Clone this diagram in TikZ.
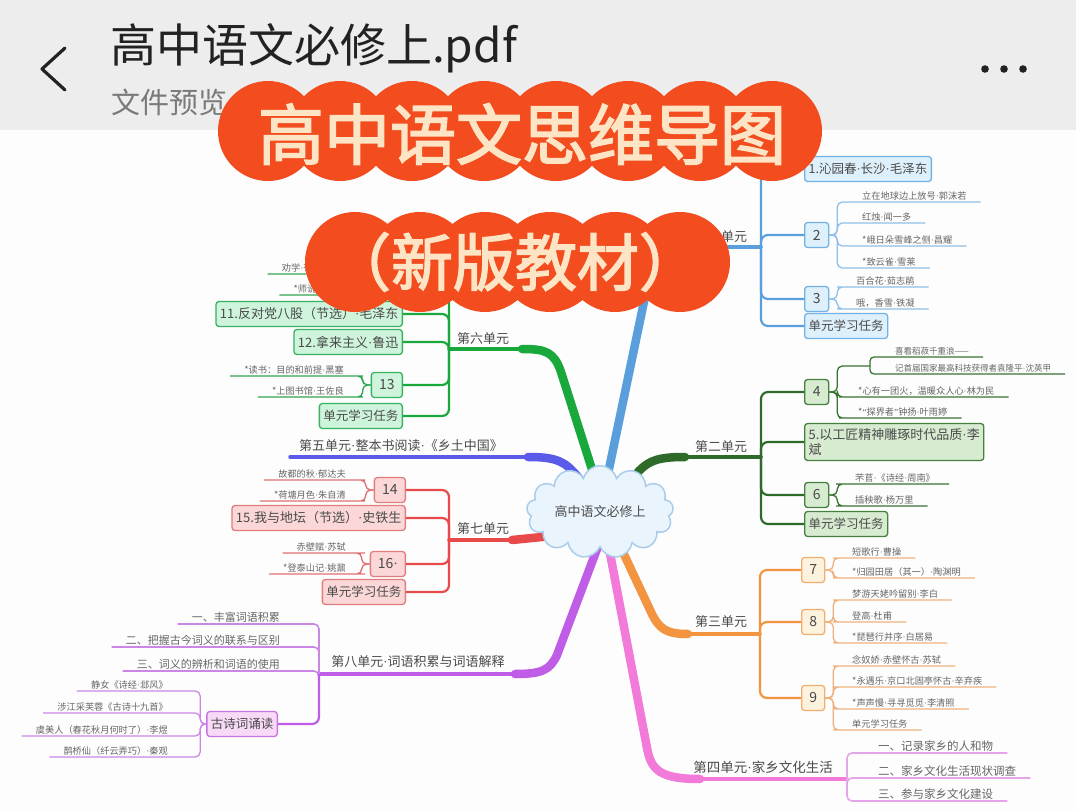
\documentclass[tikz,border=0pt]{standalone}
\usepackage{fontspec}
\setmainfont{Noto Sans CJK SC}[AutoFakeBold=2.5]
\newfontfamily\latinfont{Liberation Serif}
\usepackage{xcolor}
\usepackage{tikz}
\usetikzlibrary{shapes.symbols}

\definecolor{headbg}{HTML}{EDEDED}
\definecolor{pagebg}{HTML}{FDFDFD}
\definecolor{headink}{HTML}{222222}
\definecolor{subink}{HTML}{7A7A7A}
\definecolor{ink}{HTML}{4A4A4A}
\definecolor{leafink}{HTML}{666666}
\definecolor{banner}{HTML}{F24C1F}
\definecolor{cream}{HTML}{FDE4C4}
\definecolor{cloudfill}{HTML}{EAF4FC}
\definecolor{cloudline}{HTML}{A9CDEB}
% branch colours
\definecolor{blueline}{HTML}{5A9FDC}
\definecolor{bluetwig}{HTML}{8EC0EA}
\definecolor{bluefill}{HTML}{DDF0FB}
\definecolor{blueedge}{HTML}{72B2E4}
\definecolor{dgline}{HTML}{2E6A2A}
\definecolor{dgtwig}{HTML}{3A7435}
\definecolor{dgfill}{HTML}{D7EBD1}
\definecolor{dgedge}{HTML}{45803E}
\definecolor{orline}{HTML}{F29440}
\definecolor{ortwig}{HTML}{EFB27C}
\definecolor{orfill}{HTML}{FDF2DE}
\definecolor{oredge}{HTML}{F2B070}
\definecolor{pkline}{HTML}{F27AD9}
\definecolor{pktwig}{HTML}{E6A5E8}
\definecolor{gnline}{HTML}{19A83B}
\definecolor{gntwig}{HTML}{33A653}
\definecolor{gnfill}{HTML}{CFF4DC}
\definecolor{gnedge}{HTML}{35B35E}
\definecolor{idline}{HTML}{5B5BEA}
\definecolor{rdline}{HTML}{E84A4A}
\definecolor{rdtwig}{HTML}{E07070}
\definecolor{rdfill}{HTML}{FBD7D7}
\definecolor{rdedge}{HTML}{E27D7D}
\definecolor{puline}{HTML}{C05DE6}
\definecolor{putwig}{HTML}{CB86E6}
\definecolor{pufill}{HTML}{F8DAF7}
\definecolor{puedge}{HTML}{C774E0}

\newcommand\md{{\latinfont\char"00B7}}
\newcommand\mmleaf{\fontsize{9.2}{11}\selectfont}
\newcommand\mmsect{\fontsize{11.5}{13}\selectfont}
\newcommand\mmtopic{\fontsize{12.5}{15}\selectfont}
\newcommand\mmnum{\fontsize{14}{16}\selectfont}
\newcommand\mmunit{\fontsize{13}{15}\selectfont}
\newcommand\mmbanner{\fontsize{66}{70}\selectfont\bfseries}

\begin{document}
\begin{tikzpicture}[x=1pt, y=-1pt,
  stem/.style={line width=8.5pt, line cap=round, line join=round},
  trunk/.style={line width=3.5pt, line cap=round},
  limb/.style={line width=2.2pt, rounded corners=7pt},
  twig/.style={line width=1.3pt, rounded corners=5pt},
  topic/.style={draw, rounded corners=3pt, line width=1.3pt, inner xsep=4pt,
    inner ysep=3pt, minimum height=25pt, font=\mmtopic, text=ink},
  num/.style={topic, minimum width=24pt, font=\mmnum},
  unit/.style={font=\mmunit, text=ink, inner sep=1pt},
  leaf/.style={font=\mmleaf, text=leafink, inner xsep=14pt, inner ysep=1.5pt},
  lr/.style={leaf, anchor=south west},
  ll/.style={leaf, anchor=south east},
  blbox/.style={fill=bluefill, draw=blueedge},
  dgbox/.style={fill=dgfill, draw=dgedge},
  orbox/.style={fill=orfill, draw=oredge},
  gnbox/.style={fill=gnfill, draw=gnedge},
  rdbox/.style={fill=rdfill, draw=rdedge},
  pubox/.style={fill=pufill, draw=puedge},
  headline/.style={font=\mmbanner, text=cream, inner sep=0pt}]

\useasboundingbox (0,0) rectangle (1076,810);
\fill[pagebg] (0,0) rectangle (1076,810);
\fill[headbg] (0,0) rectangle (1076,130);

% app bar
\draw[headink, line width=3.2pt, line cap=round, line join=round]
  (65,48) -- (42,69) -- (65,90);
\node[font=\fontsize{46}{50}\selectfont, text=headink, anchor=west, inner sep=0pt]
  (file) at (110,48) {高中语文必修上.pdf};
\node[font=\fontsize{29}{32}\selectfont, text=subink, anchor=west, inner sep=0pt]
  (preview) at (111,102) {文件预览};
\foreach \x in {985,1004,1023} \fill[headink] (\x,69) circle (3.8);

% trunks from the root
\coordinate (o) at (600,512);
\coordinate (b1) at (761,247);
\coordinate (b2) at (761,457);
\coordinate (b3) at (760,634);
\coordinate (b4) at (847,779);
\coordinate (e5) at (290,457);
\coordinate (b6) at (449,349);
\coordinate (b7) at (449,540);
\coordinate (b8) at (319,674);

\draw[stem, blueline] (o) -- (646,292) .. controls (653,258) and (660,247) .. (688,247);
\draw[trunk, blueline] (688,247) -- (b1);
\draw[stem, dgline] (o) -- (628,484) .. controls (645,462) and (652,457) .. (685,457);
\draw[trunk, dgline] (685,457) -- (b2);
\draw[stem, orline] (o) -- (621,548) -- (651,612) .. controls (659,629) and (666,634) .. (688,634);
\draw[trunk, orline] (688,634) -- (b3);
\draw[stem, pkline] (o) -- (609,548) -- (647,748) .. controls (651,770) and (660,779) .. (700,779);
\draw[trunk, pkline] (700,779) -- (b4);
\draw[stem, gnline] (o) -- (596,482) -- (561,372) .. controls (554,352) and (546,349) .. (522,349);
\draw[trunk, gnline] (522,349) -- (b6);
\draw[stem, idline] (o) -- (586,488) .. controls (568,462) and (560,457) .. (528,457);
\draw[trunk, idline] (528,457) -- (e5);
\draw[stem, rdline] (o) -- (552,536) -- (512,540);
\draw[trunk, rdline] (512,540) -- (b7);
\draw[stem, puline] (o) -- (597,549) -- (557,655) .. controls (550,670) and (542,674) .. (515,674);
\draw[trunk, puline] (515,674) -- (b8);

\node[cloud, cloud puffs=13, aspect=2, draw=cloudline, fill=cloudfill, line width=1.5pt,
  minimum width=125pt, minimum height=70pt, font=\mmunit, text=ink] (root) at (o)
  {高中语文必修上};

% unit labels
\node[unit] (u1) at (721,237) {第一单元};
\node[unit] (u2) at (721,447) {第二单元};
\node[unit] (u3) at (721,622) {第三单元};
\node[unit, font=\fontsize{13.5}{15}\selectfont] (u4) at (763,767) {第四单元\md 家乡文化生活};
\node[unit] (u5) at (401,446) {第五单元\md 整本书阅读\md 《乡土中国》};
\node[unit] (u6) at (483,339) {第六单元};
\node[unit] (u7) at (483,529) {第七单元};
\node[unit] (u8) at (418,662) {第八单元\md 词语积累与词语解释};

% unit 1
\node[topic, blbox, anchor=west] (n1) at (804,169) {1.沁园春\md 长沙\md 毛泽东};
\node[num, blbox, anchor=west] (n2) at (804,235) {2};
\node[num, blbox, anchor=west] (n3) at (804,299) {3};
\node[topic, blbox, anchor=west] (t1) at (804,326) {单元学习任务};
\foreach \t in {n1,n2,n3,t1} \draw[limb, blueline] (b1) |- (\t.west);
\foreach \i/\y/\t in {a/202/立在地球边上放号\md 郭沫若, b/223/红烛\md 闻一多,
    c/246/*峨日朵雪峰之侧\md 昌耀, d/268/*致云雀\md 雪莱} {
  \node[lr] (l2\i) at (848,\y) {\t};
  \draw[twig, bluetwig] (n2.east) -- ++(8,0) |- (l2\i.south west) -- (l2\i.south east);
}
\foreach \i/\y/\t in {a/287/百合花\md 茹志鹃, b/309/哦，香雪\md 铁凝} {
  \node[lr] (l3\i) at (842,\y) {\t};
  \draw[twig, bluetwig] (n3.east) -- ++(8,0) |- (l3\i.south west) -- (l3\i.south east);
}

% unit 2
\node[num, dgbox, anchor=west] (n4) at (804,392) {4};
\node[topic, dgbox, anchor=west, align=left, font=\fontsize{13}{15}\selectfont,
  inner ysep=5pt] (n5) at (804,442) {5.以工匠精神雕琢时代品质\md 李\\斌};
\node[num, dgbox, anchor=west] (n6) at (804,495) {6};
\node[topic, dgbox, anchor=west] (t2) at (804,524) {单元学习任务};
\foreach \t in {n4,n5,n6,t2} \draw[limb, dgline] (b2) |- (\t.west);
\coordinate (s4) at (870,366);
\draw[twig, dgtwig] (n4.east) -- ++(8,0) |- (s4);
\node[lr, font=\fontsize{8.5}{10}\selectfont] (l4a) at (881,357) {喜看稻菽千重浪——};
\node[lr, font=\fontsize{8.5}{10}\selectfont] (l4b) at (881,374) {记首届国家最高科技获得者袁隆平\md 沈英甲};
\foreach \t in {l4a,l4b} \draw[twig, dgtwig, rounded corners=4pt] (s4) |- (\t.south west) -- (\t.south east);
\foreach \i/\y/\t in {c/397/*心有一团火，温暖众人心\md 林为民,
    d/418/*{\latinfont “}探界者{\latinfont ”}钟扬\md 叶雨婷} {
  \node[lr] (l4\i) at (844,\y) {\t};
  \draw[twig, dgtwig] (n4.east) -- ++(8,0) |- (l4\i.south west) -- (l4\i.south east);
}
\foreach \i/\y/\t in {a/484/芣苢\md 《诗经\md 周南》, b/506/插秧歌\md 杨万里} {
  \node[lr] (l6\i) at (841,\y) {\t};
  \draw[twig, dgtwig] (n6.east) -- ++(8,0) |- (l6\i.south west) -- (l6\i.south east);
}

% unit 3
\node[num, orbox, anchor=west, minimum width=23pt] (n7) at (801,570) {7};
\node[num, orbox, anchor=west, minimum width=23pt] (n8) at (801,622) {8};
\node[num, orbox, anchor=west, minimum width=23pt] (n9) at (801,698) {9};
\foreach \t in {n7,n8,n9} \draw[limb, orline] (b3) |- (\t.west);
\foreach \i/\y/\t in {a/558/短歌行\md 曹操, b/578/*归园田居（其一）\md 陶渊明} {
  \node[lr] (l7\i) at (838,\y) {\t};
  \draw[twig, ortwig] (n7.east) -- ++(8,0) |- (l7\i.south west) -- (l7\i.south east);
}
\foreach \i/\y/\t in {a/600/梦游天姥吟留别\md 李白, b/622/登高\md 杜甫, c/643/*琵琶行并序\md 白居易} {
  \node[lr] (l8\i) at (838,\y) {\t};
  \draw[twig, ortwig] (n8.east) -- ++(8,0) |- (l8\i.south west) -- (l8\i.south east);
}
\foreach \i/\y/\t in {a/666/念奴娇\md 赤壁怀古\md 苏轼, b/687/*永遇乐\md 京口北固亭怀古\md 辛弃疾,
    c/709/*声声慢\md 寻寻觅觅\md 李清照, d/730/单元学习任务} {
  \node[lr] (l9\i) at (838,\y) {\t};
  \draw[twig, ortwig] (n9.east) -- ++(8,0) |- (l9\i.south west) -- (l9\i.south east);
}

% unit 4
\foreach \i/\y/\t in {a/753/一、记录家乡的人和物, b/778/二、家乡文化生活现状调查,
    c/801/三、参与家乡文化建设} {
  \node[lr, font=\mmsect] (k\i) at (864,\y) {\t};
  \draw[twig, pktwig, line width=1.6pt] (b4) |- (k\i.south west) -- (k\i.south east);
}

% unit 6 (lesson 10 lies under the banner)
\coordinate (c10) at (403,284);
\node[topic, gnbox, anchor=east, font=\fontsize{13}{15}\selectfont] (n11) at (403,314) {11.反对党八股（节选）\md 毛泽东};
\node[topic, gnbox, anchor=east, font=\fontsize{13}{15}\selectfont] (n12) at (403,342) {12.拿来主义\md 鲁迅};
\node[num, gnbox, anchor=east, minimum width=31pt] (n13) at (403,385) {13};
\node[topic, gnbox, anchor=east] (t6) at (403,416) {单元学习任务};
\draw[limb, gnline] (b6) |- (c10);
\foreach \t in {n11,n12,n13,t6} \draw[limb, gnline] (b6) |- (\t.east);
\node[ll] (m10a) at (336,274) {劝学\md 荀子};
\node[ll] (m10b) at (352,295) {*师说\md 韩愈};
\foreach \t in {m10a,m10b}
  \draw[twig, gntwig] (c10) -- ++(-30,0) |- (\t.south east) -- (\t.south west);
\foreach \i/\y/\t in {a/376/*读书：目的和前提\md 黑塞, b/397/*上图书馆\md 王佐良} {
  \node[ll] (m13\i) at (358,\y) {\t};
  \draw[twig, gntwig] (n13.west) -- ++(-8,0) |- (m13\i.south east) -- (m13\i.south west);
}

% unit 7
\node[num, rdbox, anchor=east, minimum width=31pt] (n14) at (406,490) {14};
\node[topic, rdbox, anchor=east, font=\fontsize{13}{15}\selectfont] (n15) at (406,518) {15.我与地坛（节选）\md 史铁生};
\node[num, rdbox, anchor=east, minimum width=35pt] (n16) at (406,564) {16\md};
\node[topic, rdbox, anchor=east] (t7) at (406,592) {单元学习任务};
\foreach \t in {n14,n15,n16,t7} \draw[limb, rdline] (b7) |- (\t.east);
\foreach \i/\y/\t in {a/480/故都的秋\md 郁达夫, b/501/*荷塘月色\md 朱自清} {
  \node[ll] (m14\i) at (360,\y) {\t};
  \draw[twig, rdtwig] (n14.west) -- ++(-8,0) |- (m14\i.south east) -- (m14\i.south west);
}
\foreach \i/\y/\t in {a/553/赤壁赋\md 苏轼, b/574/*登泰山记\md 姚鼐} {
  \node[ll] (m16\i) at (360,\y) {\t};
  \draw[twig, rdtwig] (n16.west) -- ++(-8,0) |- (m16\i.south east) -- (m16\i.south west);
}

% unit 8
\foreach \i/\y/\t in {a/624/一、丰富词语积累, b/647/二、把握古今词义的联系与区别,
    c/671/三、词义的辨析和词语的使用} {
  \node[ll, font=\fontsize{11}{13}\selectfont] (w\i) at (294,\y) {\t};
  \draw[twig, putwig, line width=1.6pt] (b8) |- (w\i.south east) -- (w\i.south west);
}
\node[topic, pubox, anchor=east] (gs) at (278,724) {古诗词诵读};
\draw[limb, puline] (b8) |- (gs.east);
\foreach \i/\y/\t in {a/691/静女《诗经\md 邶风》, b/713/涉江采芙蓉《古诗十九首》,
    c/736/虞美人（春花秋月何时了）\md 李煜, d/757/鹊桥仙（纤云弄巧）\md 秦观} {
  \node[ll] (g\i) at (182,\y) {\t};
  \draw[twig, putwig] (gs.west) -- ++(-6,0) |- (g\i.south east) -- (g\i.south west);
}

% title banners
\foreach \i in {0,...,7} \fill[banner] (268+72*\i,131) circle (50);
\foreach \i in {0,...,5} \fill[banner] (355+65*\i,262) circle (50);
\node[headline] (title) at (522,134) {高中语文思维导图};
\node[headline, font=\fontsize{62}{66}\selectfont\bfseries] (edition) at (515,262) {（新版教材）};
\end{tikzpicture}
\end{document}
